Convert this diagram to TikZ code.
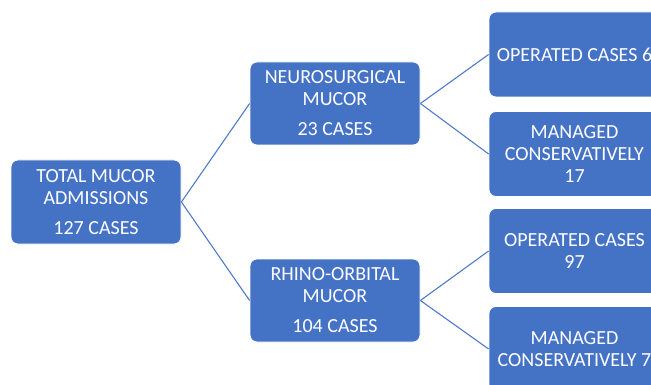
\documentclass[tikz,border=0pt]{standalone}
\usepackage{fontspec}
\setmainfont{Carlito}
\definecolor{boxblue}{HTML}{4472C4}
\definecolor{lineblue}{HTML}{4F7BC8}
\begin{document}
\begin{tikzpicture}[x=1pt,y=-1pt,
  box/.style={draw=white,line width=0.8pt,fill=boxblue,rounded corners=7pt,
    minimum width=170pt,minimum height=84pt,inner sep=0pt,align=center,
    text=white,font=\fontsize{20}{22}\selectfont},
  conn/.style={draw=lineblue,line width=1.1pt}]
\useasboundingbox (0,0) rectangle (651,385);
\clip (0,0) rectangle (651,385);
\fill[white] (0,0) rectangle (651,385);
\node[box] (tot) at (96,202) {TOTAL MUCOR\\ADMISSIONS\\[8pt]127 CASES};
\node[box,minimum height=83pt] (neu) at (335,103.5) {NEUROSURGICAL\\MUCOR\\[8pt]23 CASES};
\node[box,minimum height=83pt] (rhi) at (335,300.5) {RHINO-ORBITAL\\MUCOR\\[8pt]104 CASES};
\node[box,minimum width=171pt,minimum height=85pt] (op1) at (574.5,54.5) {OPERATED CASES 6};
\node[box,minimum width=171pt,minimum height=85pt] (mc1) at (574.5,154) {MANAGED\\CONSERVATIVELY\\17};
\node[box,minimum width=171pt,minimum height=85pt] (op2) at (574.5,251) {OPERATED CASES\\97};
\node[box,minimum width=171pt,minimum height=85pt] (mc2) at (574.5,349) {MANAGED\\CONSERVATIVELY 7};
\draw[conn] (tot.east) -- (neu.west);
\draw[conn] (tot.east) -- (rhi.west);
\draw[conn] (neu.east) -- (op1.west);
\draw[conn] (neu.east) -- (mc1.west);
\draw[conn] (rhi.east) -- (op2.west);
\draw[conn] (rhi.east) -- (mc2.west);
\end{tikzpicture}
\end{document}
